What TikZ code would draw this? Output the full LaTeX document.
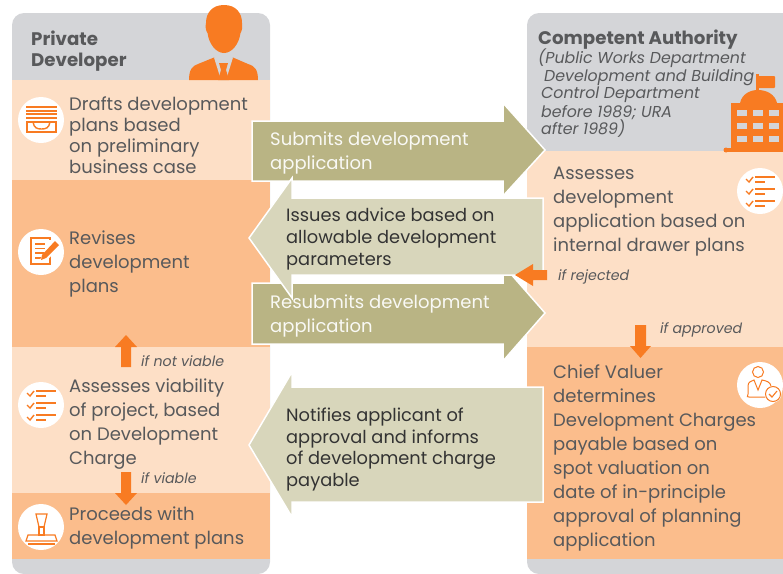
\documentclass[tikz,border=0pt]{standalone}
\usepackage{fontspec}
\setmainfont{Poppins}
\definecolor{gr}{HTML}{D4D5D8}
\definecolor{lt}{HTML}{FDDFC6}
\definecolor{dk}{HTML}{FBBD8C}
\definecolor{og}{HTML}{F87B22}
\definecolor{ol}{HTML}{B9B484}
\definecolor{pl}{HTML}{D8D6BB}
\definecolor{tx}{HTML}{58595B}
\newcommand{\flowtxt}{\fontsize{18}{24}\selectfont}
\tikzset{x=1pt,y=-1pt,
 body/.style={anchor=north west,inner sep=0pt,align=left,text=tx,font=\flowtxt,execute at begin node={\rule{0pt}{15.5pt}}},
 subh/.style={anchor=base west,inner sep=0pt,text=tx,font=\fontsize{15.8}{18}\selectfont\itshape},
 head/.style={inner sep=0pt,align=left,text=tx,font=\fontsize{18.2}{21}\selectfont\bfseries},
 ifl/.style={anchor=base west,inner sep=0pt,text=tx,font=\fontsize{14.2}{16}\selectfont\itshape},
 arr/.style={fill=#1,draw=white,line width=1.5pt,line join=miter},
 badge/.style={circle,fill=white,minimum size=46pt,inner sep=0pt},
 ico/.style={draw=og,line width=1pt,fill=none},
 oarr/.style={fill=og,draw=none}}
\begin{document}
\begin{tikzpicture}
\useasboundingbox (0,0) rectangle (783,573);
% columns
\fill[gr,rounded corners=12pt] (12,13) rectangle (270,574);
\fill[gr,rounded corners=12pt] (527,13) rectangle (800,574);
\fill[lt] (12,80) rectangle (270,180);
\fill[dk] (12,180) rectangle (270,347);
\fill[lt] (12,347) rectangle (270,493);
\fill[dk] (12,493) rectangle (270,559);
\fill[lt] (527,151) rectangle (783,347);
\fill[dk] (527,347) rectangle (783,559);
% person
\fill[og] (189,80) .. controls (189,70) and (192,66) .. (198,64) -- (214,57.5) -- (221,64) -- (223,62) -- (225,64) -- (233,57.5) -- (248,64) .. controls (255,66) and (258,70) .. (258,80) -- cycle;
\fill[og] (224,5) .. controls (212,5) and (206,13) .. (206,23) .. controls (205,27) and (206,31) .. (207.5,33) .. controls (209,44) and (216,53) .. (224,53) .. controls (232,53) and (239,44) .. (240.5,33) .. controls (242,31) and (242.5,27) .. (242,23) .. controls (242,13) and (236,5) .. (224,5) -- cycle;
\fill[gr] (214,57.5) -- (233,57.5) -- (226,80) -- (221,80) -- cycle;
\fill[og] (219,63) -- (228,63) -- (226,70) -- (229,80) -- (218,80) -- (221,70) -- cycle;
% building
\fill[og] (726,150) circle (2.5pt);
\fill[og] (726,148) rectangle (783,152);
\fill[og] (731,103) rectangle (783,148);
\fill[og] (740,103) .. controls (742,94) and (750,90) .. (758,90) .. controls (766,90) and (775,94) .. (777,103) -- cycle;
\fill[og] (756,74) rectangle (758.5,92);
\fill[og,rounded corners=1pt] (758,76) rectangle (775,88);
\foreach \r in {110,123,136}{\foreach \c in {737,753,769}{\fill[gr] (\c,\r) rectangle (\c+10,\r+6);}}
% orange up arrow
\fill[oarr] (121,367) -- (121,347) -- (115,347) -- (126,335) -- (137,347) -- (131,347) -- (131,367) -- cycle;
% big arrows
\draw[arr=ol] (252,121) -- (503,121) -- (503,103) -- (545,150) -- (503,196) -- (503,181) -- (252,181) -- cycle;
\draw[arr=ol] (252,283) -- (503,283) -- (503,265) -- (545,313) -- (503,361) -- (503,344) -- (252,344) -- cycle;
\draw[arr=pl] (543,198) -- (292,198) -- (292,178) -- (249,238) -- (292,298) -- (292,275) -- (543,275) -- cycle;
\draw[arr=pl] (543,387) -- (292,387) -- (292,372) -- (249,445) -- (292,517) -- (292,502) -- (543,502) -- cycle;
% orange arrows
\fill[oarr] (547,270) -- (533,270) -- (533,264) -- (515,275) -- (533,286) -- (533,280) -- (547,280) -- cycle;
\fill[oarr] (635,325) -- (646,325) -- (646,346) -- (651,346) -- (640.5,358) -- (630,346) -- (635,346) -- cycle;
\fill[oarr] (121,472) -- (131,472) -- (131,493) -- (137,493) -- (126,505) -- (115,493) -- (121,493) -- cycle;
% badges
\node[badge] (b1) at (41,120) {};
\node[badge] (b2) at (41,252) {};
\node[badge] (b3) at (41,405) {};
\node[badge] (b4) at (41,527) {};
\node[badge] (b5) at (760,191) {};
\node[badge] (b6) at (760,385) {};
% icon 1 tray
\foreach \y in {107,110.5,114,117.5}{\draw[og,line width=2pt] (26,\y) -- (57,\y);}
\draw[og,line width=1.4pt] (27,122) -- (56,122) -- (56,132) -- (27,132) -- cycle;
\draw[og,line width=1.4pt] (33,122) .. controls (34,128) and (37,129) .. (41.5,129) .. controls (46,129) and (49,128) .. (50,122);
% icon 2 note
\draw[og,line width=1.4pt] (50,246) -- (50,264) -- (31,264) -- (31,238) -- (50,238) -- (50,240);
\foreach \y in {244,248.5,253,258}{\draw[og,line width=1.1pt] (35,\y) -- (45,\y);}
\fill[white] (53,240) -- (61,246) -- (46,261) -- (39,261) -- cycle;
\fill[og] (55,241) -- (59,245) -- (46,258) -- (41,260) -- (42,255) -- cycle;
% checklist icons
\foreach \cx/\cy in {41/405,760/191}{
 \begin{scope}[shift={(\cx,\cy)}]
 \foreach \dy in {-12,0,12}{
  \draw[og,line width=1.4pt] (-14,\dy) -- (-11,\dy+3) -- (-7,\dy-2);
  \draw[og,line width=1.4pt] (-5,\dy-2) -- (15,\dy-2);
  \draw[og,line width=1.4pt] (-5,\dy+3) -- (5,\dy+3);
 }
 \end{scope}}
% icon 4 stamp
\draw[og,line width=1.2pt] (36,514) -- (47,514) -- (44,527) -- (39,527) -- cycle;
\draw[og,line width=1.2pt] (39,527) rectangle (44,535);
\draw[og,line width=1.2pt] (28,535) -- (55,535) -- (57,541) -- (26,541) -- cycle;
\draw[og,line width=1.3pt] (28,544) -- (55,544);
% icon 6 person
\draw[ico] (758,372) circle (5.5);
\draw[ico] (773,397) -- (749,397) .. controls (746,397) and (748,397) .. (748,394) -- (748,386) .. controls (748,382) and (751,381) .. (754,380) -- (758,390) -- (762,380) .. controls (767,381) and (770,382) .. (771,386);
\fill[white] (773,394) circle (8.5);
\draw[ico] (773,394) circle (7.5);
\draw[og,line width=1.1pt] (769,394) -- (772,397) -- (777,391);
% headings
\node[head,anchor=north west,execute at begin node={\rule{0pt}{14pt}}] (h1) at (31,31) {Private\\Developer};
\node[head,anchor=base west] (h2) at (538,44) {Competent Authority};
\node[subh] (s1) at (538,63) {(Public Works Department};
\node[subh] (s2) at (544,81) {Development and Building};
\node[subh] (s3) at (541,98) {Control Department};
\node[subh] (s4) at (541,117) {before 1989; URA};
\node[subh] (s5) at (541,134) {after 1989)};
% left texts
\node[body,font=\fontsize{18}{21.1}\selectfont] (t1) at (69,96.5) {Drafts development\\plans based\\on preliminary\\business case};
\node[body] (t2) at (69,230.5) {Revises\\development\\plans};
\node[body] (t3) at (69,379) {Assesses viability\\of project, based\\on Development\\Charge};
\node[body] (t4) at (69,506.5) {Proceeds with\\development plans};
% right texts
\node[body] (t5) at (553,167) {Assesses\\development\\application based on\\internal drawer plans};
\node[body] (t6) at (553,364.5) {Chief Valuer\\determines\\Development Charges\\payable based on\\spot valuation on\\date of in-principle\\approval of planning\\application};
% arrow texts
\node[body,text=white!92!ol] (a1) at (270,131.5) {Submits development\\application};
\node[body,text=white!92!ol] (a2) at (270,294.5) {Resubmits development\\application};
\node[body,text=black!80,font=\fontsize{17.8}{21.7}\selectfont] (a3) at (286,208) {Issues advice based on\\allowable development\\parameters};
\node[body,text=black!80,font=\fontsize{17.8}{21.7}\selectfont] (a4) at (286,407.5) {Notifies applicant of\\approval and informs\\of development charge\\payable};
% conditions
\node[ifl] (c1) at (141,366) {if not viable};
\node[ifl] (c2) at (141,483) {if viable};
\node[ifl] (c3) at (558,280) {if rejected};
\node[ifl] (c4) at (660,333) {if approved};
\end{tikzpicture}
\end{document}
